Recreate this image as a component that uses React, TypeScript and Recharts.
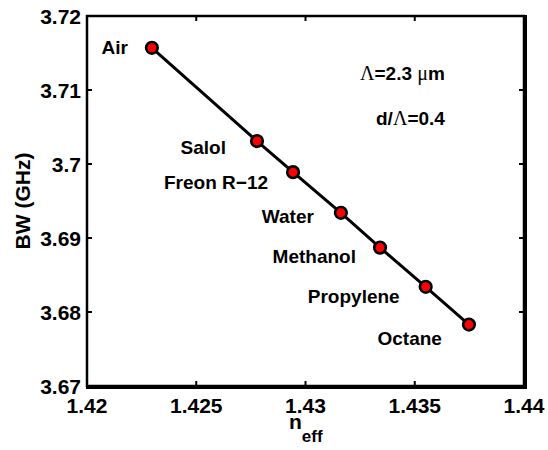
import { LineChart, Line, XAxis, YAxis, LabelList } from "recharts";

// liquids filling the holes, effective index and bandwidth
const liquids = ["Air", "Salol", "Freon R\u221212", "Water", "Methanol", "Propylene", "Octane"];
const nEff = [1.42297, 1.42778, 1.42943, 1.43162, 1.43341, 1.4355, 1.43748];
const bandwidth = [3.7157, 3.7031, 3.6989, 3.6934, 3.6887, 3.6834, 3.6783];

const xTicks = [1.42, 1.425, 1.43, 1.435, 1.44];
const yTicks = [3.67, 3.68, 3.69, 3.7, 3.71, 3.72];

const data = liquids.map((name, i) => ({ name, n: nEff[i], bw: bandwidth[i] }));

// label placement nudges (px), left of each point and a bit lower
const labelGap = [24, 31, 25, 27, 24, 26, 27];
const labelDrop = [0, 6, 10, 4, 9, 10, 14];

const FONT = "'Liberation Sans', Arial, sans-serif";
const SERIF = "'Liberation Serif', 'Times New Roman', serif";

const Dot = (p: any) => (
    <circle key={p.index} cx={p.cx} cy={p.cy} r={5.8} fill="#ff0000" stroke="#000" strokeWidth={2.6} />
);

const NameLabel = (p: any) => {
    const vb = p.viewBox ?? {};
    const x = (vb.x ?? p.x) + (vb.width ?? p.width ?? 0) / 2;
    const y = (vb.y ?? p.y) + (vb.height ?? p.height ?? 0) / 2;
    const i = p.index ?? 0;
    return (
        <text
            x={x - labelGap[i]}
            y={y + labelDrop[i]}
            textAnchor="end"
            dominantBaseline="central"
            fontFamily={FONT}
            fontWeight="bold"
            fontSize={19}
            fill="#000"
        >
            {p.value}
        </text>
    );
};

// matlab style: ticks point inward on all four sides, labels only bottom/left
const BottomTick = ({ x, y, payload }: any) => (
    <g>
        <path d={`M${x},${y}L${x},${y - 5}`} stroke="#000" strokeWidth={2} fill="none" />
        <text x={x} y={y + 12} dy="0.71em" textAnchor="middle" fontFamily={FONT} fontWeight="bold" fontSize={21} fill="#000">
            {payload.value}
        </text>
    </g>
);

const LeftTick = ({ x, y, payload }: any) => (
    <g>
        <path d={`M${x},${y}L${x + 5},${y}`} stroke="#000" strokeWidth={2} fill="none" />
        <text x={x - 6} y={y} textAnchor="end" dominantBaseline="central" fontFamily={FONT} fontWeight="bold" fontSize={21} fill="#000">
            {payload.value}
        </text>
    </g>
);

const TopTick = ({ x, y }: any) => (
    <path d={`M${x},${y}L${x},${y + 5}`} stroke="#000" strokeWidth={2} fill="none" />
);

const RightTick = ({ x, y }: any) => (
    <path d={`M${x},${y}L${x - 5},${y}`} stroke="#000" strokeWidth={2} fill="none" />
);

export default function App() {
    return (
        <div style={{ position: "absolute", left: 0, top: 0, width: 548, height: 450 }}>
            <LineChart
                width={548}
                height={450}
                data={data}
                margin={{ top: 6, right: 14, bottom: 34, left: 27 }}
            >
                <XAxis
                    xAxisId="b"
                    type="number"
                    dataKey="n"
                    domain={[1.42, 1.44]}
                    allowDataOverflow
                    ticks={xTicks}
                    height={30}
                    tickSize={0}
                    tickMargin={0}
                    tickLine={false}
                    axisLine={false}
                    tick={(p: any) => <BottomTick {...p} />}
                />
                <XAxis
                    xAxisId="t"
                    orientation="top"
                    type="number"
                    dataKey="n"
                    domain={[1.42, 1.44]}
                    allowDataOverflow
                    ticks={xTicks}
                    height={10}
                    tickSize={0}
                    tickMargin={0}
                    tickLine={false}
                    axisLine={false}
                    tick={(p: any) => <TopTick {...p} />}
                />
                <YAxis
                    yAxisId="l"
                    type="number"
                    domain={[3.67, 3.72]}
                    allowDataOverflow
                    ticks={yTicks}
                    width={60}
                    tickSize={0}
                    tickMargin={0}
                    tickLine={false}
                    axisLine={false}
                    tick={(p: any) => <LeftTick {...p} />}
                />
                <YAxis
                    yAxisId="r"
                    orientation="right"
                    type="number"
                    domain={[3.67, 3.72]}
                    allowDataOverflow
                    ticks={yTicks}
                    width={10}
                    tickSize={0}
                    tickMargin={0}
                    tickLine={false}
                    axisLine={false}
                    tick={(p: any) => <RightTick {...p} />}
                />
                <Line
                    xAxisId="b"
                    yAxisId="l"
                    dataKey="bw"
                    stroke="#000"
                    strokeWidth={3}
                    dot={Dot}
                    activeDot={false}
                    isAnimationActive={false}
                >
                    <LabelList dataKey="name" content={NameLabel} />
                </Line>
                {/* axes box */}
                <path d="M87,16H524V386H87Z" fill="none" stroke="#000" strokeWidth={2.5} />
                <text
                    x={22}
                    y={201}
                    transform="rotate(-90, 22, 201)"
                    textAnchor="middle"
                    dominantBaseline="central"
                    fontFamily={FONT}
                    fontWeight="bold"
                    fontSize={21}
                    fill="#000"
                >
                    BW (GHz)
                </text>
                <text x={289} y={429} fontFamily={FONT} fontWeight="bold" fontSize={21} fill="#000">
                    n
                    <tspan fontSize={17} dy={13}>eff</tspan>
                </text>
                <text x={360} y={73} dominantBaseline="central" fontFamily={FONT} fontWeight="bold" fontSize={19} fill="#000">
                    <tspan fontFamily={SERIF} fontWeight="normal" fontSize={20}>Λ</tspan>
                    =2.3{" "}
                    <tspan fontFamily={SERIF} fontWeight="normal" fontSize={20}>μ</tspan>
                    m
                </text>
                <text x={376} y={118} dominantBaseline="central" fontFamily={FONT} fontWeight="bold" fontSize={19} fill="#000">
                    d/
                    <tspan fontFamily={SERIF} fontWeight="normal" fontSize={20}>Λ</tspan>
                    =0.4
                </text>
            </LineChart>
            {/* fallback frame in case the svg box is not painted */}
            <div
                style={{
                    position: "absolute",
                    left: 85.75,
                    top: 14.75,
                    width: 437,
                    height: 370,
                    border: "2.5px solid #000",
                    pointerEvents: "none",
                }}
            />
        </div>
    );
}
